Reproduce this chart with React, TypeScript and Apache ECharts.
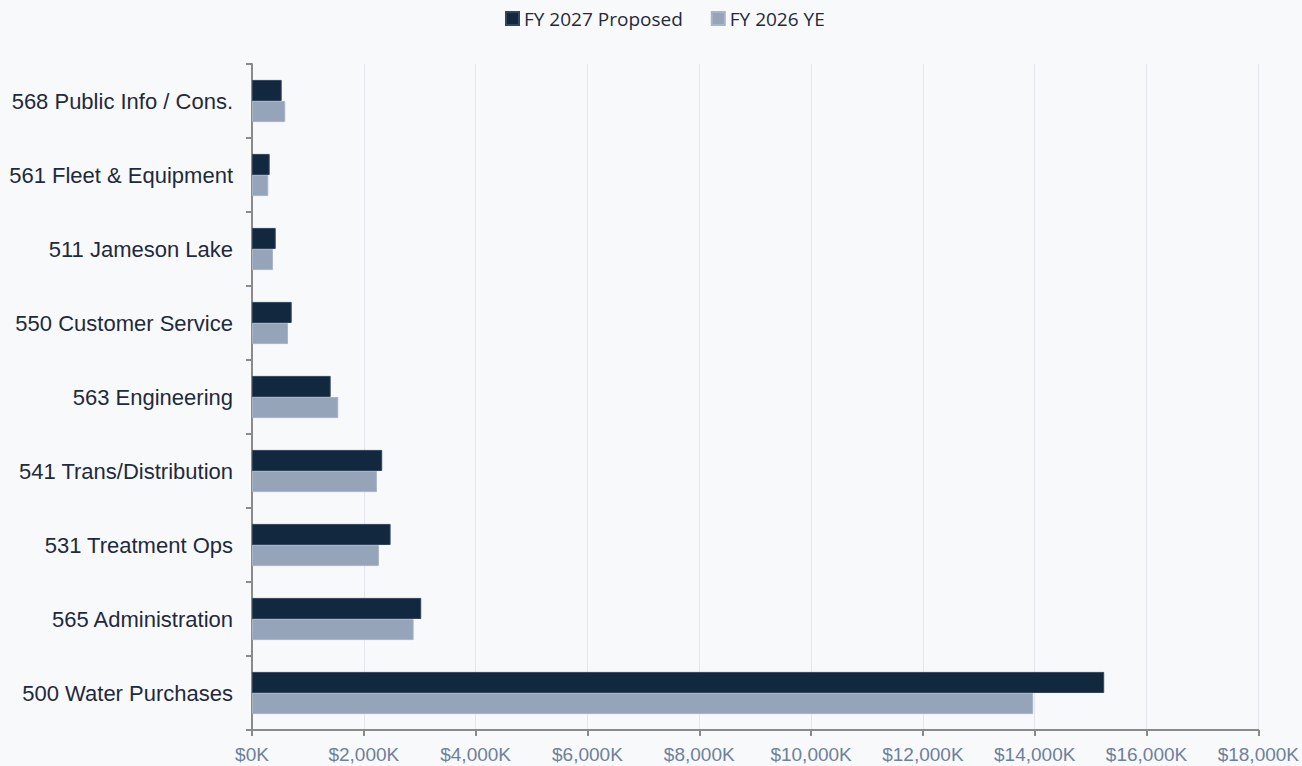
import React, { useEffect, useRef } from "react";
import * as echarts from "echarts";

const categories = [
  "568 Public Info / Cons.",
  "561 Fleet & Equipment",
  "511 Jameson Lake",
  "550 Customer Service",
  "563 Engineering",
  "541 Trans/Distribution",
  "531 Treatment Ops",
  "565 Administration",
  "500 Water Purchases",
];
const fy2027Proposed = [531, 316, 424, 710, 1407, 2329, 2479, 3027, 15243];
const fy2026YE = [595, 291, 375, 644, 1543, 2235, 2270, 2891, 13973];
const seriesNames = ["FY 2027 Proposed", "FY 2026 YE"];

export default function App() {
  const ref = useRef<HTMLDivElement>(null);
  useEffect(() => {
    if (!ref.current) return;
    const chart = echarts.init(ref.current, null, { renderer: "svg" });
    chart.setOption({
      animation: false,
      backgroundColor: "#f8f9fb",
      legend: {
        top: 4,
        left: 500,
        itemWidth: 13,
        itemHeight: 13,
        itemGap: 28,
        icon: "rect",
        textStyle: { fontFamily: "Open Sans", fontSize: 19, color: "#1f2a3d" },
        data: seriesNames,
      },
      grid: { left: 252, right: 43, top: 64, bottom: 36, containLabel: false },
      xAxis: {
        type: "value",
        min: 0,
        max: 18000,
        interval: 2000,
        axisLine: { show: true, lineStyle: { color: "#8a8a8a", width: 2 } },
        axisTick: { show: true, length: 6, lineStyle: { color: "#8a8a8a", width: 2 } },
        splitLine: { show: true, lineStyle: { color: "#e3e6ec", width: 1 } },
        axisLabel: {
          margin: 15,
          fontFamily: "Liberation Sans, Arial",
          fontSize: 19,
          color: "#6e809c",
          formatter: (v: number) => "$" + v.toLocaleString("en-US") + "K",
        },
      },
      yAxis: {
        type: "category",
        data: categories,
        inverse: true,
        axisLine: { show: true, lineStyle: { color: "#8a8a8a", width: 2 } },
        axisTick: { show: true, length: 6, lineStyle: { color: "#8a8a8a", width: 2 } },
        splitLine: { show: false },
        axisLabel: {
          margin: 19,
          fontFamily: "Liberation Sans, Arial",
          fontSize: 22,
          color: "#1f2a3d",
        },
      },
      series: [
        {
          name: seriesNames[0],
          type: "bar",
          data: fy2027Proposed,
          barGap: "0%",
          barCategoryGap: "43%",
          itemStyle: { color: "#12283f", borderColor: "#33465e", borderWidth: 1 },
        },
        {
          name: seriesNames[1],
          type: "bar",
          data: fy2026YE,
          barGap: "0%",
          barCategoryGap: "43%",
          itemStyle: { color: "#95a4b9", borderColor: "#a9b5c7", borderWidth: 1 },
        },
      ],
    });
    return () => chart.dispose();
  }, []);
  return <div ref={ref} style={{ width: 1302, height: 766, position: "absolute", left: 0, top: 0 }} />;
}
